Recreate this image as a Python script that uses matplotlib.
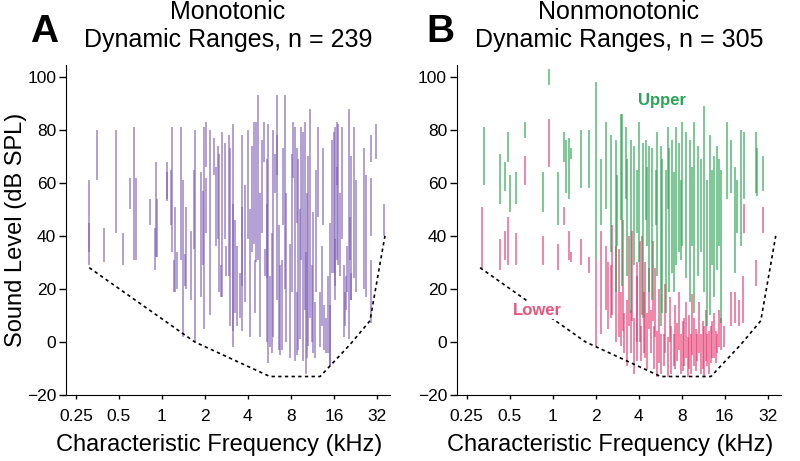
import numpy as np
import matplotlib
matplotlib.use("Agg")
import matplotlib.pyplot as plt

plt.rcParams['font.family'] = ['Liberation Sans', 'DejaVu Sans']

# dynamic ranges: (CF kHz, low dB, high dB)
mono_ranges = [
    (0.31, 29, 61), (0.31, 34, 45), (0.35, 61, 80), (0.39, 30, 43), (0.48, 41, 80),
    (0.53, 29, 41), (0.60, 50, 62), (0.64, 31, 81), (0.66, 31, 62), (0.83, 44, 54),
    (0.90, 27, 43), (0.91, 32, 68), (0.93, 32, 54), (1.09, 53, 68), (1.08, 54, 64),
    (1.17, 34, 81), (1.16, 44, 65), (1.23, 19, 51), (1.22, 19, 31), (1.28, 20, 34),
    (1.37, 31, 81), (1.40, 2, 61), (1.48, 20, 51), (1.46, 21, 33), (1.59, 16, 42),
    (1.70, 0, 80), (1.69, 35, 65), (1.89, 17, 64), (1.95, 29, 57), (1.97, 5, 81),
    (2.05, 66, 83), (2.03, 41, 62), (2.18, 10, 80), (2.31, 63, 77), (2.39, 36, 66),
    (2.48, 39, 74), (2.52, 19, 71), (2.62, 17, 79), (2.58, 17, 29), (2.78, 39, 75),
    (2.83, 25, 36), (2.93, 25, 78), (3.00, 6, 73), (3.12, -2, 82), (3.16, 4, 52),
    (3.24, 11, 46), (3.33, 6, 36), (3.52, 9, 26), (3.61, 21, 78), (3.66, 4, 51),
    (3.83, 15, 59), (4.02, 39, 80), (4.15, 2, 50), (4.29, 34, 74), (4.38, 37, 83),
    (4.48, 11, 31), (4.53, 30, 83), (4.73, 31, 93), (4.86, 2, 56), (5.02, 41, 76),
    (5.19, 68, 83), (5.26, 25, 35), (5.40, 24, 69), (5.45, 0, 52), (5.56, -8, 82),
    (5.69, -2, 25), (5.86, -4, 41), (6.01, 2, 80), (6.19, 56, 71), (6.36, 63, 93),
    (6.42, 16, 78), (6.60, -3, 44), (6.70, -5, 29), (6.95, -3, 31), (7.00, 44, 73),
    (7.30, 20, 93), (7.38, 0, 56), (7.85, -6, 37), (8.10, 19, 71), (8.30, 62, 83),
    (8.54, -7, 81), (8.80, 45, 73), (8.80, -5, 19), (9.00, -3, 69), (9.25, 1, 50),
    (9.40, 31, 81), (9.70, -7, 79), (10.0, 12, 83), (10.2, -12, 34), (10.3, -6, 56),
    (10.6, -1.5, 70), (10.9, 9, 88), (11.2, 0, 29), (11.4, -4, 49), (11.8, -6, 15),
    (12.0, 19, 65), (12.4, 47, 81), (12.8, -2, 19), (13.1, 6, 36), (13.5, 44, 73),
    (13.6, -3, 14), (14.0, -4, 9), (14.6, -4, 25), (14.9, -9, 14), (15.0, -9, 45),
    (15.4, 26, 76), (15.9, 26, 79), (16.2, 21, 81), (16.3, 16, 39), (16.7, 59, 83),
    (16.9, 31, 66), (17.2, 29, 82), (17.6, 25, 56), (18.1, 39, 81), (18.7, 2, 29),
    (19.1, 6, 19), (19.4, 12, 25), (19.8, 19, 36), (20.5, 1, 88), (20.8, 31, 47),
    (21.0, 16, 26), (21.2, 16, 70), (22.0, 24, 81), (23.0, 19, 61), (26.0, 20, 73),
    (26.7, 17, 63), (28.9, 68, 78), (28.9, 7, 31), (29.2, 40, 62), (31.5, 69, 82),
    (35.9, 40, 52),
]

upper_ranges = [
    (0.33, 59, 81), (0.43, 52, 71), (0.46, 57, 68), (0.49, 68, 79), (0.50, 49, 63),
    (0.55, 52, 64), (0.64, 77, 83), (0.86, 49, 64), (0.94, 97, 103), (1.09, 44, 64),
    (1.19, 68, 79), (1.23, 56, 76), (1.30, 54, 77), (1.34, 69, 73), (1.57, 58, 80),
    (1.79, 58, 80), (2.00, 31, 98), (2.17, 44, 69), (2.35, 50, 83), (2.57, 34, 78),
    (2.76, 19, 76), (2.84, 36, 63), (3.00, 46, 86), (3.07, 21, 86), (3.25, 54, 81),
    (3.33, 25, 69), (3.52, 11, 76), (3.72, 29, 74), (3.88, 41, 65), (4.02, 30, 83),
    (4.31, 9, 75), (4.48, 46, 76), (4.60, 36, 66), (4.73, 19, 74), (4.99, 16, 73),
    (5.27, 44, 65), (5.41, 25, 79), (5.70, 6, 74), (5.86, 11, 69), (6.19, 11, 65),
    (6.36, 50, 81), (6.53, 19, 73), (6.88, 26, 76), (7.07, 19, 64), (7.26, 29, 81),
    (7.67, 34, 75), (7.88, 31, 61), (8.09, 36, 83), (8.54, 24, 79), (9.10, 15, 76),
    (9.50, 36, 66), (9.75, 11, 83), (10.4, 25, 74), (10.9, 34, 69), (11.4, 19, 89),
    (12.0, 6, 61), (12.7, 10, 78), (13.1, 29, 65), (13.5, 17, 70), (14.2, 27, 74),
    (14.6, 36, 69), (15.0, 7, 65), (16.5, 54, 83), (17.8, 56, 76), (18.8, 26, 66),
    (19.6, 41, 61), (20.7, 36, 80), (21.8, 54, 79), (26.4, 56, 79), (27.1, 55, 73),
    (29.8, 57, 70),
]

lower_ranges = [
    (0.32, 28, 51), (0.43, 27, 39), (0.46, 31, 42), (0.49, 29, 47), (0.55, 29, 41),
    (0.64, 59, 70), (0.86, 29, 40), (0.94, 66, 84), (1.09, 27, 37), (1.19, 44, 51),
    (1.30, 31, 42), (1.34, 30, 34), (1.57, 29, 39), (1.79, 26, 32), (2.00, -1.5, 31),
    (2.17, 3, 42), (2.35, 12, 36), (2.45, 5, 30), (2.55, 9, 29), (2.62, 10, 44),
    (2.76, 0, 36), (2.90, 2, 35), (3.00, -1.5, 19), (3.10, 4, 46), (3.15, -4, 11),
    (3.33, -9, 16), (3.40, 6, 40), (3.52, -4, 12), (3.60, 8, 42), (3.72, -12, 9),
    (3.90, 0, 30), (3.91, -7, 25), (4.05, 0, 38), (4.13, -7, 6), (4.20, 10, 40),
    (4.37, -4, 19), (4.45, -6, 30), (4.60, -10, 11), (4.70, 5, 28), (4.86, -4, 12),
    (5.00, 8, 38), (5.13, -10, 6), (5.20, 2, 28), (5.41, -13, 4), (5.55, -8, 20),
    (5.70, -12, 3), (6.03, -9, 3), (6.10, -4, 22), (6.36, -13, 2), (6.60, 0, 17),
    (6.70, -12, 6), (7.07, -9, 3), (7.20, -10, 14), (7.46, -7, 7), (7.70, -3, 19),
    (7.88, -12, 3), (8.10, -11, 8), (8.30, -9, 9), (8.60, -6, 15), (8.78, -13, 2),
    (9.00, -10, 10), (9.25, -12, 3), (9.50, -5, 18), (9.75, -9, 9), (10.1, -11, 5),
    (10.3, -7, 3), (10.6, -4, 15), (10.9, -12, 3), (11.2, -10, 8), (11.5, -13, 6),
    (11.8, -7, 12), (12.1, -9, 3), (12.4, -12, 4), (12.8, -8, 6), (13.1, -6, 8),
    (13.5, -6, 11), (13.9, -8, 4), (14.2, -4, 3), (14.6, -2, 12), (15.0, -3, 9),
    (15.8, -2, 6), (17.8, 6, 19), (18.8, 7, 19), (20.2, 6, 16), (21.5, 7, 25),
    (21.8, 41, 52), (26.4, 21, 31), (29.8, 41, 51),
]

# lower boundary of recorded thresholds
boundary_cf = [0.31, 1.70, 5.70, 12.8, 20.7, 28.6, 36.4]
boundary_db = [28, 0, -13, -13, -1, 8, 40]

purple = '#7d5fb6'
green = '#1fa247'
pink = '#e6336a'

freq_ticks = [0.25, 0.5, 1, 2, 4, 8, 16, 32]
freq_labels = ['0.25', '0.5', '1', '2', '4', '8', '16', '32']


def style_axis(ax):
    ax.set_xscale('log', base=2)
    ax.set_xlim(0.213, 39.5)
    ax.set_ylim(-20, 104.4)
    ax.set_xticks(freq_ticks)
    ax.set_xticklabels(freq_labels)
    ax.minorticks_off()
    ax.set_yticks(range(-20, 101, 20))
    ax.spines['top'].set_visible(False)
    ax.spines['right'].set_visible(False)
    ax.tick_params(labelsize=12.5, width=1, direction='out')
    ax.tick_params(axis='x', length=3, pad=7)
    ax.tick_params(axis='y', length=5, pad=2)
    ax.set_xlabel('Characteristic Frequency (kHz)', fontsize=17)
    ax.xaxis.set_label_coords(0.473, -0.118)
    ax.plot(boundary_cf, boundary_db, color='black', lw=1.2, ls=(0, (2, 2)), zorder=3)


fig = plt.figure(figsize=(8, 4.61), dpi=100)
axA = fig.add_axes([0.0825, 0.143, 0.405, 0.716])
axB = fig.add_axes([0.571, 0.143, 0.405, 0.716])

cf, lo, hi = zip(*mono_ranges)
axA.vlines(cf, lo, hi, colors=purple, lw=1.1, alpha=0.75)
style_axis(axA)
axA.set_ylabel('Sound Level (dB SPL)', fontsize=17, labelpad=0)
axA.set_title('Monotonic\nDynamic Ranges, n = 239', fontsize=18, pad=13)

cf, lo, hi = zip(*lower_ranges)
axB.vlines(cf, lo, hi, colors=pink, lw=1.1, alpha=0.75)
cf, lo, hi = zip(*upper_ranges)
axB.vlines(cf, lo, hi, colors=green, lw=1.1, alpha=0.75)
style_axis(axB)
axB.set_title('Nonmonotonic\nDynamic Ranges, n = 305', fontsize=18, pad=13)
axB.text(5.8, 91, 'Upper', color='#2aa556', fontsize=12, fontweight='bold',
         ha='center', va='center', zorder=5)
axB.text(0.78, 12, 'Lower', color='#e8557a', fontsize=12, fontweight='bold',
         ha='center', va='center', zorder=5,
         bbox=dict(facecolor='white', edgecolor='none', pad=1))

fig.text(0.055, 0.93, 'A', fontsize=28, fontweight='bold', ha='center', va='center')
fig.text(0.55, 0.93, 'B', fontsize=28, fontweight='bold', ha='center', va='center')

fig.savefig('out.png', dpi=100)
